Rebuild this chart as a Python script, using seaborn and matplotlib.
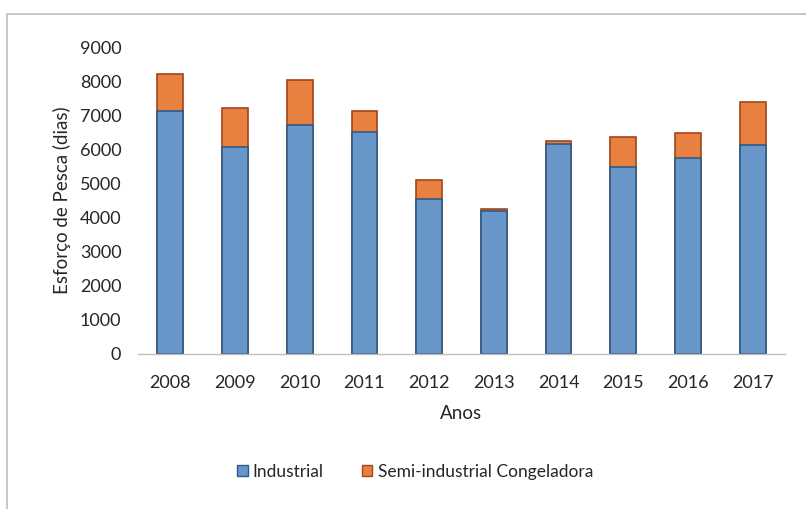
import matplotlib
matplotlib.use("Agg")
import matplotlib.pyplot as plt
import matplotlib.patches as mpatches
import seaborn as sns
import pandas as pd

years = ["2008", "2009", "2010", "2011", "2012", "2013", "2014", "2015", "2016", "2017"]
industrial = [7130, 6080, 6720, 6500, 4550, 4200, 6150, 5480, 5740, 6130]
semi_industrial = [1070, 1120, 1320, 610, 550, 50, 80, 870, 740, 1270]
yticks = [0, 1000, 2000, 3000, 4000, 5000, 6000, 7000, 8000, 9000]

df = pd.DataFrame({"Ano": years, "Industrial": industrial, "Semi": semi_industrial})
df["Total"] = df["Industrial"] + df["Semi"]

sns.set_style("white")
plt.rcParams["font.family"] = ["Lato", "DejaVu Sans"]

fig = plt.figure(figsize=(8.06, 5.09), dpi=100)
ax = fig.add_axes([138/806, 1 - 354/509, (785 - 138)/806, (354 - 47)/509])

blue = "#6896c9"
orange = "#e8803f"
sns.barplot(data=df, x="Ano", y="Total", color=orange, width=0.4, saturation=1,
            edgecolor="#a3441a", linewidth=1.2, ax=ax)
sns.barplot(data=df, x="Ano", y="Industrial", color=blue, width=0.4, saturation=1,
            edgecolor="#2f5a86", linewidth=1.2, ax=ax)

ax.set_ylim(0, 9000)
ax.set_xlim(-0.5, len(years) - 0.5)
ax.set_yticks(yticks)
ax.set_yticklabels([str(v) for v in yticks], fontsize=13, color="#262626")
ax.tick_params(axis="x", labelsize=13, colors="#262626", length=0, pad=15)
ax.tick_params(axis="y", length=0, pad=12)
for s in ["top", "right", "left"]:
    ax.spines[s].set_visible(False)
ax.spines["bottom"].set_color("#bfbfbf")
ax.spines["bottom"].set_linewidth(1)
ax.grid(False)
ax.set_xlabel("Anos", fontsize=13.5, color="#262626", labelpad=10)
ax.set_ylabel("Esforço de Pesca (dias)", fontsize=13.5, color="#262626", labelpad=6)

# outer frame
frame = mpatches.Rectangle((7/806, -0.05), 1.0, 1 - 14/509 + 0.05, transform=fig.transFigure,
                           fill=False, edgecolor="#c4c4c4", linewidth=1.3)
fig.patches.append(frame)

handles = [mpatches.Patch(facecolor=blue, edgecolor="#2f5a86", label="Industrial"),
           mpatches.Patch(facecolor=orange, edgecolor="#a3441a", label="Semi-industrial Congeladora")]
fig.legend(handles=handles, loc="center", bbox_to_anchor=(415/806, 1 - 472/509), ncol=2,
           frameon=False, fontsize=12.5, handlelength=0.6, handleheight=0.6,
           handletextpad=0.3, columnspacing=2.2)

fig.savefig("out.png", dpi=100)
